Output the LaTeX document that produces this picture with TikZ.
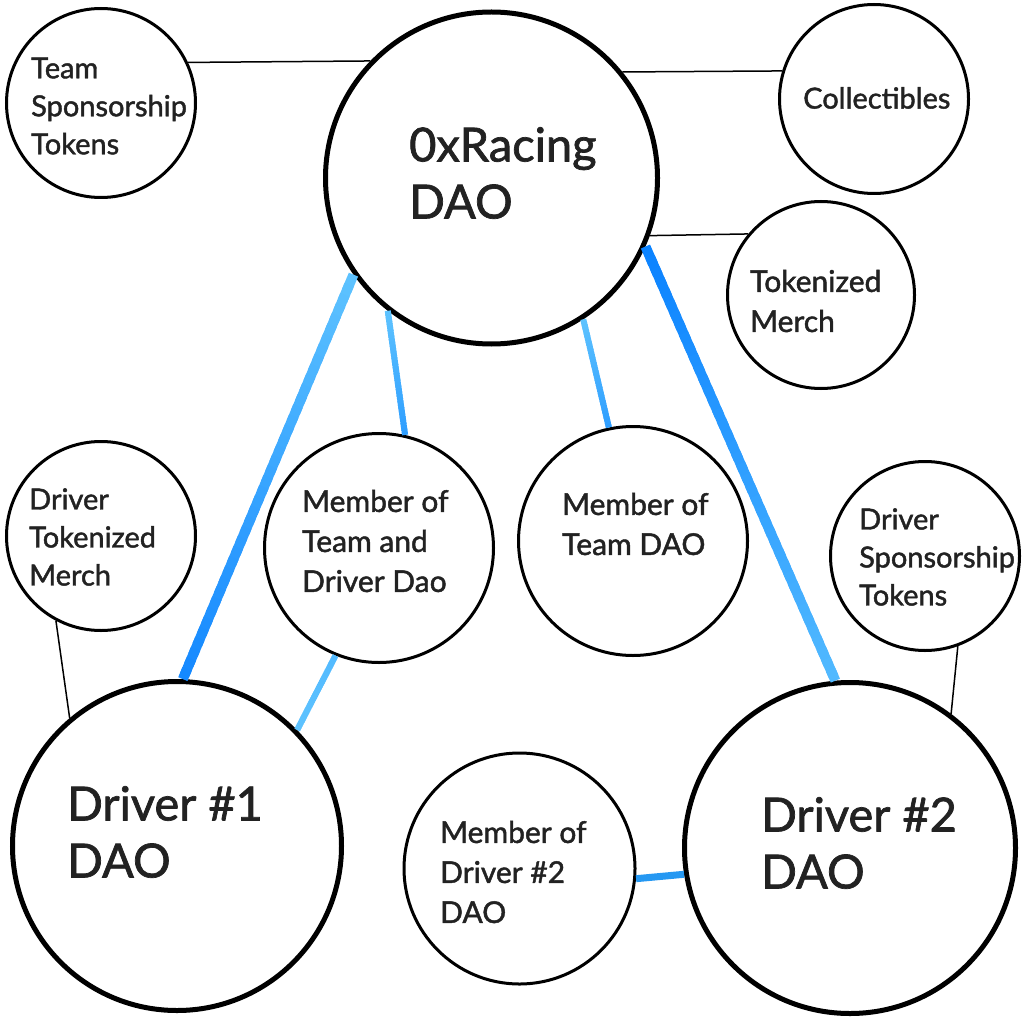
\documentclass[tikz,border=0pt]{standalone}
\usepackage{fontspec}
\setmainfont{Lato}[FakeBold=1.5]
\usetikzlibrary{calc}
\definecolor{ink}{HTML}{222222}
\definecolor{bdark}{HTML}{1488FF}
\definecolor{bdeep}{HTML}{0A82FF}
\definecolor{blight}{HTML}{5EC3FF}
\definecolor{bsoft}{HTML}{52BAFF}
\definecolor{bmid}{HTML}{2E9EFF}
\definecolor{bline}{HTML}{2598F2}
\tikzset{
  bubble/.style={circle, draw=black, line width=3pt, fill=white, inner sep=0pt},
  bigbubble/.style={bubble, line width=5pt},
  lbl/.style={anchor=west, inner sep=0pt, align=left, text=ink, font=\fontsize{29}{38}\selectfont},
  lblm/.style={lbl, font=\fontsize{30}{40}\selectfont},
  lblbig/.style={lbl, font=\fontsize{47}{57}\selectfont},
  tie/.style={draw=black, line width=1.5pt},
}
\newcommand\gradlink[5]{%
  \foreach \i in {1,...,40}{%
    \pgfmathsetmacro\ta{(\i-1)/40}%
    \pgfmathsetmacro\tb{min(1,(\i+0.6)/40)}%
    \pgfmathsetmacro\pc{100-(\i-0.5)*2.5}%
    \draw[line width=#5, color=#3!\pc!#4] ($(#1)!\ta!(#2)$) -- ($(#1)!\tb!(#2)$);
  }}
\begin{document}
\begin{tikzpicture}[x=1pt,y=-1pt]
\fill[white] (0,0) rectangle (1024,1024);
\useasboundingbox (0,0) rectangle (1024,1024);

% circles
\node[bubble, minimum size=189pt] (team) at (101,103) {};
\node[bigbubble, minimum size=332pt] (dao) at (491.5,178) {};
\node[bubble, minimum size=189pt] (coll) at (874,99) {};
\node[bubble, minimum size=187pt] (merch) at (821,295) {};
\node[bubble, minimum size=189pt] (dmerch) at (101,536) {};
\node[bubble, minimum size=229pt] (mtd) at (379,548) {};
\node[bubble, minimum size=229pt] (mt) at (633,541) {};
\node[bubble, minimum size=189pt] (dspons) at (925,556) {};
\node[bigbubble, minimum size=329pt] (d1) at (177,846) {};
\node[bubble, minimum size=231pt] (md2) at (519.5,868.5) {};
\node[bigbubble, minimum size=331pt] (d2) at (850,848) {};

% labels
\node[lbl] (teamt) at (31,106) {Team\\Sponsorship\\Tokens};
\node[lblbig] (daot) at (409,173) {0xRacing\\DAO};
\node[lbl] (collt) at (803,98) {Collectibles};
\node[lblm] (mercht) at (750,301) {Tokenized\\Merch};
\node[lbl] (dmercht) at (29,537) {Driver\\Tokenized\\Merch};
\node[lblm] (mtdt) at (302,541) {Member of\\Team and\\Driver Dao};
\node[lblm] (mtt) at (562,524) {Member of\\Team DAO};
\node[lbl] (dsponst) at (859,557) {Driver\\Sponsorship\\Tokens};
\node[lblbig] (d1t) at (67,832) {Driver \#1\\DAO};
\node[lblm] (md2t) at (440,872) {Member of\\Driver \#2\\DAO};
\node[lblbig] (d2t) at (761,843) {Driver \#2\\DAO};

% thin black ties
\draw[tie] (team.25.3) -- (dao.136.5);
\draw[tie] (dao.39) -- (coll.163.7);
\draw[tie] (dao.340.2) -- (merch.140.8);
\draw[tie] (dmerch.242.4) -- (d1.130.9);
\draw[tie] (dspons.290) -- (d2.53.7);

% blue links
\gradlink{dao.215.8}{d1.88}{blight}{bdark}{10pt}
\gradlink{dao.336.1}{d2.95.9}{bdeep}{bsoft}{10pt}
\gradlink{dao.232.9}{mtd.77.3}{blight}{bmid}{6pt}
\gradlink{dao.303.7}{mt.102.8}{blight}{bmid}{6pt}
\gradlink{mtd.248}{d1.44.8}{bsoft}{blight}{6pt}
\draw[line width=7pt, bline] (md2.355.8) -- (d2.189.9);
\end{tikzpicture}
\end{document}
